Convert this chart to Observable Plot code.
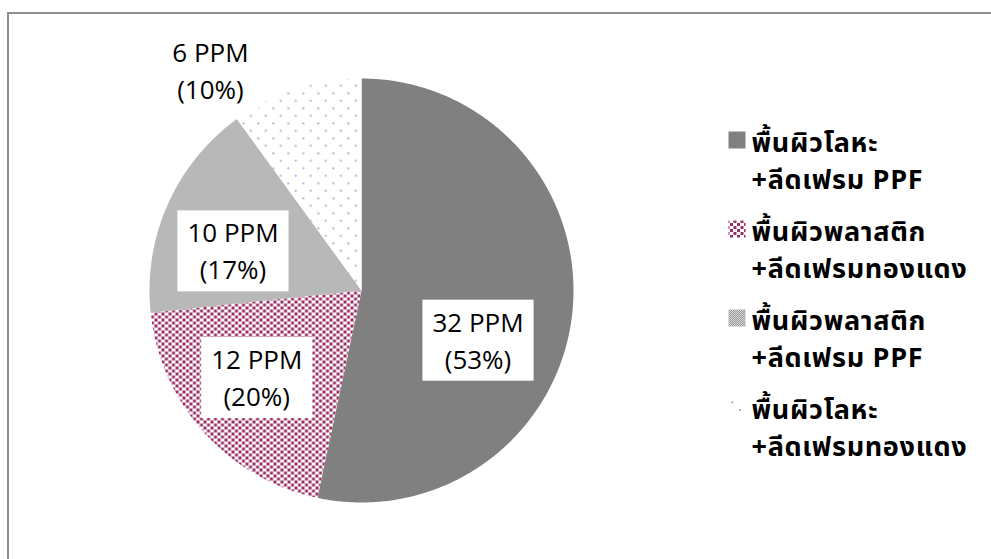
<!DOCTYPE html>
<html>
<head>
<meta charset="utf-8">
<script src="https://cdn.jsdelivr.net/npm/d3@7"></script>
<script src="https://cdn.jsdelivr.net/npm/@observablehq/plot@0.6"></script>
<style>
  html, body { margin: 0; padding: 0; background: #fff; overflow: hidden; }
  #chart { position: relative; width: 991px; height: 559px; overflow: hidden; }
  #chart .border {
    position: absolute; left: 7px; top: 12px; width: 1400px; height: 900px;
    border-top: 2px solid #8e8e8e; border-left: 2px solid #8e8e8e;
    pointer-events: none;
  }
  #chart svg { position: absolute; left: 0; top: 0; }
  #chart .legend-text text { letter-spacing: 0.7px; }
</style>
</head>
<body>
<div id="chart"><div class="border"></div></div>
<script>
// Defect counts by surface finish and lead-frame material
const surfaces   = ["พื้นผิวโลหะ", "พื้นผิวพลาสติก", "พื้นผิวพลาสติก", "พื้นผิวโลหะ"];
const leadframes = ["ลีดเฟรม PPF", "ลีดเฟรมทองแดง", "ลีดเฟรม PPF", "ลีดเฟรมทองแดง"];
const values     = [32, 12, 10, 6];
const unit       = "PPM";

// Fill for each slice (solid, maroon dots, fine grey check, sparse dots)
const sliceFills = ["#808080", "url(#pat-maroon)", "url(#pat-check)", "url(#pat-dots)"];
// Where each value label sits: fraction along the slice's sweep, radius (pie radius = 1)
const labelPlacement = [[0.585, 0.594], [0.54, 0.637], [0.398, 0.637], [0.047, 1.264]];

const total = d3.sum(values);
const pie = d3.pie().sort(null).value(d => d)(values); // starts at 12 o'clock, clockwise

// Slice outlines on the unit circle (angle measured clockwise from the top)
const polar = (a, r) => ({x: r * Math.sin(a), y: r * Math.cos(a)});
const slicePolys = pie.map((p, i) => {
  const n = Math.max(2, Math.ceil((p.endAngle - p.startAngle) / (Math.PI / 360)));
  const pts = [{x: 0, y: 0}];
  for (let k = 0; k <= n; ++k) pts.push(polar(p.startAngle + (p.endAngle - p.startAngle) * k / n, 1));
  pts.push({x: 0, y: 0});
  return pts;
});

const labels = pie.map((p, i) => {
  const [t, r] = labelPlacement[i];
  const a = p.startAngle + (p.endAngle - p.startAngle) * t;
  const pct = Math.round(values[i] / total * 100);
  return {...polar(a, r), text: `${values[i]} ${unit}\n(${pct}%)`};
});

const legendLeft = 736, legendTop = 139, legendStep = 89;

const svg = Plot.plot({
  width: 991,
  height: 559,
  margin: 0,
  x: {domain: [-1, 1], range: [149, 573], axis: null},
  y: {domain: [-1, 1], range: [502, 78], axis: null},
  style: {background: "transparent"},
  marks: [
    ...slicePolys.map((pts, i) =>
      Plot.line(pts, {x: "x", y: "y", fill: sliceFills[i], stroke: "none", curve: "linear"})
    ),
    Plot.text(labels, {
      x: "x", y: "y", text: "text",
      fontSize: 26, lineHeight: 37 / 26, fill: "#000",
      fontFamily: "'Open Sans', 'Noto Sans', sans-serif",
      textAnchor: "middle", lineAnchor: "middle",
      className: "slice-label"
    }),
    // Legend swatches and entries, top to bottom in slice order
    ...values.map((v, i) => Plot.dot([v], {
      frameAnchor: "top-left", dx: legendLeft + 0.5, dy: legendTop + 0.5 + i * legendStep,
      symbol: "square", r: 17 / Math.sqrt(Math.PI), fill: sliceFills[i], stroke: "none"
    })),
    ...values.map((v, i) => Plot.text([`${surfaces[i]}\n+${leadframes[i]}`], {
      frameAnchor: "top-left", dx: 751, dy: legendTop + 19 + i * legendStep,
      text: d => d, textAnchor: "start", lineAnchor: "middle",
      fontSize: 27, fontWeight: "bold", lineHeight: 37 / 27, fill: "#000",
      fontFamily: "'Noto Sans Thai', 'Leelawadee UI', Tahoma, 'Noto Sans', sans-serif",
      className: "legend-text"
    }))
  ]
});

// Fill patterns used by the slices and swatches
const defs = d3.select(svg).insert("defs", ":first-child");
const maroon = defs.append("pattern").attr("id", "pat-maroon")
  .attr("patternUnits", "userSpaceOnUse").attr("width", 7).attr("height", 6);
maroon.append("rect").attr("width", 7).attr("height", 6).attr("fill", "#fff");
maroon.append("rect").attr("x", 0).attr("y", 0).attr("width", 3).attr("height", 3).attr("fill", "#9b2d62");
maroon.append("rect").attr("x", 3.5).attr("y", 3).attr("width", 3).attr("height", 3).attr("fill", "#9b2d62");

const check = defs.append("pattern").attr("id", "pat-check")
  .attr("patternUnits", "userSpaceOnUse").attr("width", 2).attr("height", 2);
check.append("rect").attr("width", 2).attr("height", 2).attr("fill", "#d6d6d6");
check.append("rect").attr("x", 0).attr("y", 0).attr("width", 1).attr("height", 1).attr("fill", "#999999");
check.append("rect").attr("x", 1).attr("y", 1).attr("width", 1).attr("height", 1).attr("fill", "#999999");

const dots = defs.append("pattern").attr("id", "pat-dots")
  .attr("patternUnits", "userSpaceOnUse").attr("width", 15).attr("height", 15);
dots.append("rect").attr("width", 15).attr("height", 15).attr("fill", "#fff");
dots.append("rect").attr("x", 2).attr("y", 2).attr("width", 1.6).attr("height", 1.6).attr("fill", "#8a8ac4");
dots.append("rect").attr("x", 9.5).attr("y", 9.5).attr("width", 1.6).attr("height", 1.6).attr("fill", "#8a8ac4");

document.getElementById("chart").append(svg);

// White boxes behind the value labels
svg.querySelectorAll("g.slice-label text").forEach(t => {
  const b = t.getBBox();
  const padX = 10, padY = 4;
  const r = document.createElementNS("http://www.w3.org/2000/svg", "rect");
  r.setAttribute("x", b.x - padX);
  r.setAttribute("y", b.y - padY);
  r.setAttribute("width", b.width + 2 * padX);
  r.setAttribute("height", b.height + 2 * padY);
  r.setAttribute("fill", "#fff");
  if (t.getAttribute("transform")) r.setAttribute("transform", t.getAttribute("transform"));
  t.parentNode.insertBefore(r, t);
});
</script>
</body>
</html>
